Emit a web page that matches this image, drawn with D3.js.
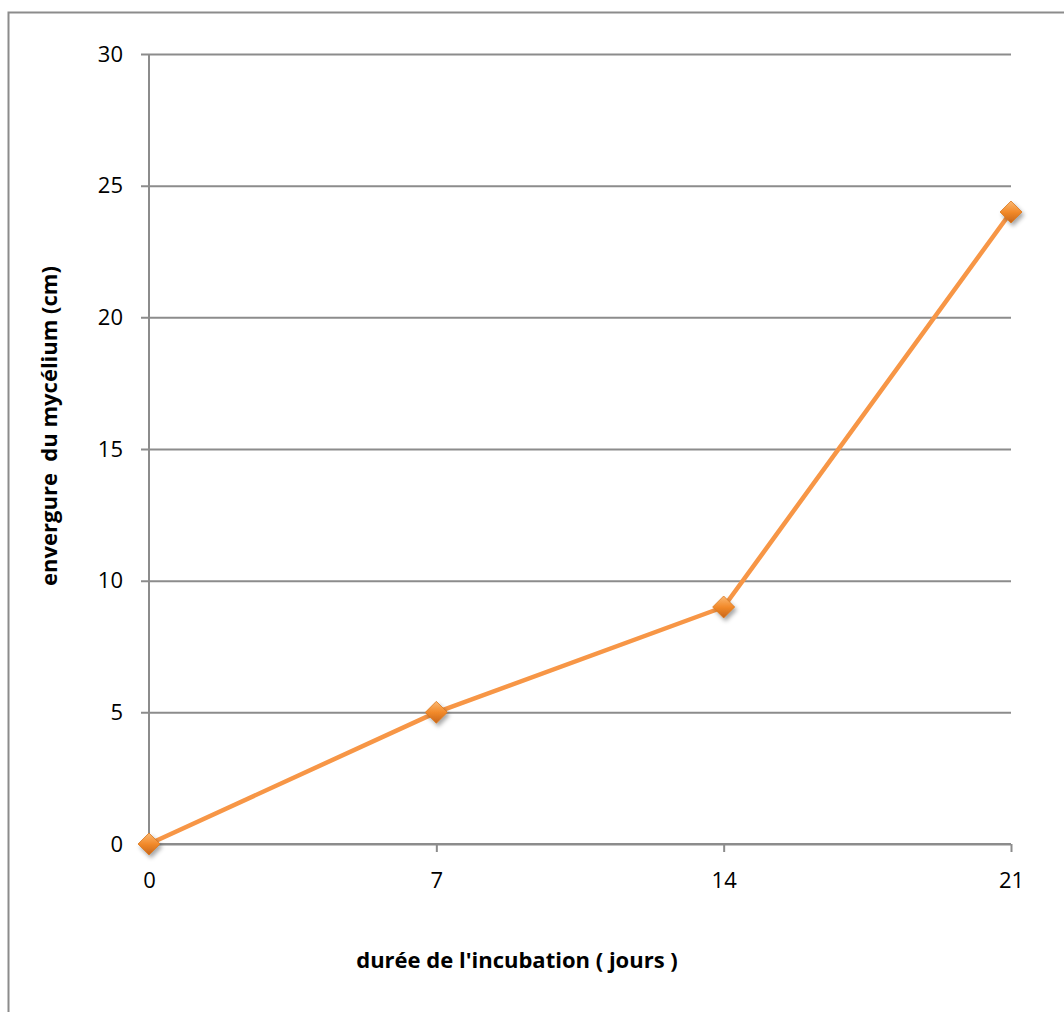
<!DOCTYPE html>
<html>
<head>
<meta charset="utf-8">
<script src="https://cdn.jsdelivr.net/npm/d3@7"></script>
<style>
  html, body { margin: 0; padding: 0; background: #fff; }
  svg { display: block; }
</style>
</head>
<body>
<svg id="chart" width="1064" height="1012"></svg>
<script>
// Incubation days and mycelium span (cm)
const days = ["0", "7", "14", "21"];
const span = [0, 5, 9, 24];
const yTicks = [0, 5, 10, 15, 20, 25, 30];
const xTitle = "durée de l'incubation ( jours )";
const yTitle = "envergure  du mycélium (cm)";

const svg = d3.select("#chart");
const W = 1064, H = 1012;
const plot = { left: 149, right: 1011, top: 54, bottom: 844 };
const font = "'Open Sans', 'Liberation Sans', sans-serif";

// outer chart frame
svg.append("rect")
  .attr("x", 8.5).attr("y", 12.5)
  .attr("width", W + 20).attr("height", H + 20)
  .attr("fill", "#fff").attr("stroke", "#8c8c8c").attr("stroke-width", 2);

const x = d3.scalePoint().domain(days).range([plot.left, plot.right]);
const y = d3.scaleLinear().domain([0, 30]).range([plot.bottom, plot.top]);

// horizontal gridlines with outward ticks
const yAxis = d3.axisLeft(y).tickValues(yTicks)
  .tickSize(-(plot.right - plot.left)).tickPadding(26).tickFormat(d3.format("d"));
const gy = svg.append("g").attr("transform", `translate(${plot.left},0)`).call(yAxis);
gy.select(".domain").remove();
gy.selectAll(".tick line")
  .attr("x1", -8).attr("stroke", "#8c8c8c").attr("stroke-width", 2);
gy.selectAll(".tick text")
  .attr("font-family", font).attr("font-size", 22).attr("fill", "#000");

// vertical axis line
svg.append("line")
  .attr("x1", plot.left).attr("x2", plot.left)
  .attr("y1", plot.top).attr("y2", plot.bottom)
  .attr("stroke", "#8c8c8c").attr("stroke-width", 2);

// category axis
const xAxis = d3.axisBottom(x).tickSize(8).tickPadding(20);
const gx = svg.append("g").attr("transform", `translate(0,${plot.bottom})`).call(xAxis);
gx.select(".domain").remove();
gx.selectAll(".tick line").attr("stroke", "#8c8c8c").attr("stroke-width", 2);
gx.selectAll(".tick text")
  .attr("font-family", font).attr("font-size", 22).attr("fill", "#000");
svg.append("line")
  .attr("x1", plot.left - 8).attr("x2", plot.right)
  .attr("y1", plot.bottom).attr("y2", plot.bottom)
  .attr("stroke", "#8c8c8c").attr("stroke-width", 2);

// axis titles
svg.append("text")
  .attr("x", 517).attr("y", 968)
  .attr("text-anchor", "middle")
  .attr("font-family", font).attr("font-weight", "bold").attr("font-size", 22)
  .text(xTitle);
svg.append("text")
  .attr("transform", `translate(57,${426}) rotate(-90)`)
  .attr("text-anchor", "middle")
  .attr("font-family", font).attr("font-weight", "bold").attr("font-size", 22)
  .style("white-space", "pre")
  .text(yTitle);

// marker shading
const defs = svg.append("defs");
const grad = defs.append("linearGradient").attr("id", "mk")
  .attr("x1", 0).attr("y1", 0).attr("x2", 0).attr("y2", 1);
grad.append("stop").attr("offset", "0%").attr("stop-color", "#fbb873");
grad.append("stop").attr("offset", "50%").attr("stop-color", "#f28a2a");
grad.append("stop").attr("offset", "100%").attr("stop-color", "#c8651a");
const shadow = defs.append("filter").attr("id", "sh")
  .attr("x", "-50%").attr("y", "-50%").attr("width", "200%").attr("height", "200%");
shadow.append("feDropShadow").attr("dx", 2).attr("dy", 3)
  .attr("stdDeviation", 2).attr("flood-color", "#000").attr("flood-opacity", 0.35);

const pts = days.map((d, i) => ({ d, v: span[i] }));

// series line
svg.append("path")
  .datum(pts)
  .attr("fill", "none")
  .attr("stroke", "#f79646")
  .attr("stroke-width", 4.5)
  .attr("stroke-linejoin", "round")
  .attr("d", d3.line().x(p => x(p.d)).y(p => y(p.v)));

// diamond markers
const s = 11;
svg.append("g").selectAll("path")
  .data(pts).join("path")
  .attr("transform", p => `translate(${x(p.d)},${y(p.v)})`)
  .attr("d", `M0,${-s}L${s},0L0,${s}L${-s},0Z`)
  .attr("fill", "url(#mk)")
  .attr("stroke", "#d9781f").attr("stroke-width", 0.8)
  .attr("filter", "url(#sh)");
</script>
</body>
</html>
